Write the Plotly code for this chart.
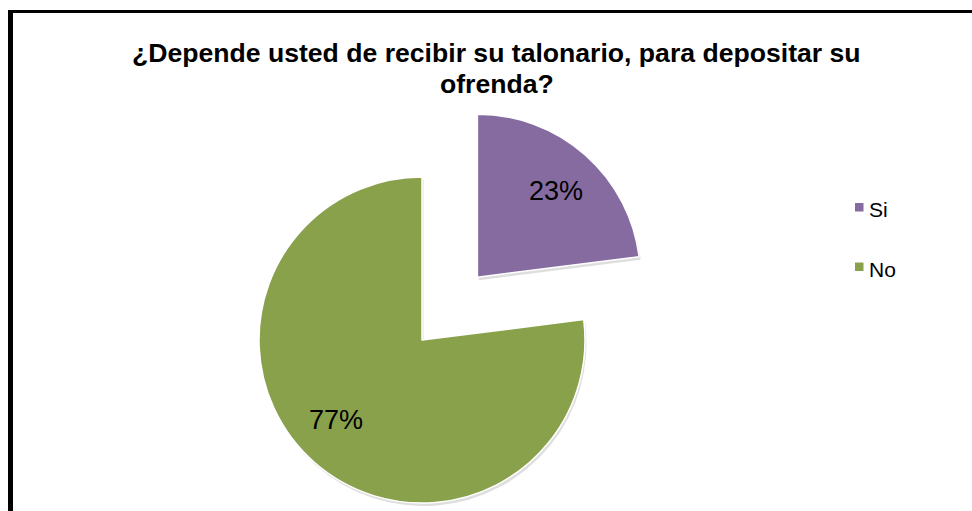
import math
import plotly.graph_objects as go

# --- data -------------------------------------------------------------
labels = ["Si", "No"]
values = [23, 77]
colors = ["#866BA1", "#8AA14C"]
title_lines = [
    "¿Depende usted de recibir su talonario, para depositar su",
    "ofrenda?",
]

# --- layout constants (pixels) ----------------------------------------
W, H = 972, 511
CX, CY, R = 422, 340, 163        # pie centre and radius
PULLS = [0.514, 0.0]             # exploded offset per slice, fraction of R
LABEL_R = 0.725                  # data label distance, fraction of R
LABEL_NUDGE = [(0, 2), (-8, -9)]  # small per-label offsets
FONT = "Liberation Sans, Arial, sans-serif"


def px(x):
    return x / W


def py(y):
    return 1 - y / H


total = sum(values)
fracs = [v / total for v in values]
starts, acc = [], 0.0
for f in fracs:
    starts.append(acc)
    acc += f * 360
mids = [math.radians(s + f * 180) for s, f in zip(starts, fracs)]

fig = go.Figure()
annotations = []
shapes = []


def pie_for(i, cx, cy, fill, line_w):
    """One pie trace in which only slice i is visible."""
    return go.Pie(
        labels=labels,
        values=values,
        sort=False,
        direction="clockwise",
        rotation=0,
        marker=dict(
            colors=[fill if j == i else "rgba(0,0,0,0)" for j in range(len(values))],
            line=dict(
                color=["white" if j == i else "rgba(0,0,0,0)" for j in range(len(values))],
                width=[line_w if j == i else 0 for j in range(len(values))],
            ),
        ),
        textinfo="none",
        hoverinfo="skip",
        showlegend=False,
        domain=dict(x=[px(cx - R), px(cx + R)], y=[py(cy + R), py(cy - R)]),
    )


centres = []
for i, m in enumerate(mids):
    d = PULLS[i] * R
    centres.append((CX + d * math.sin(m), CY - d * math.cos(m)))

# soft drop shadow under each slice
for i, (cx, cy) in enumerate(centres):
    fig.add_trace(pie_for(i, cx + 1.5, cy + 3, "rgba(0,0,0,0.13)", 0))
for i, (cx, cy) in enumerate(centres):
    fig.add_trace(pie_for(i, cx, cy, colors[i], 1.5))

# percentage labels placed along each slice's mid-angle
for i, (cx, cy) in enumerate(centres):
    lx = cx + LABEL_R * R * math.sin(mids[i]) + LABEL_NUDGE[i][0]
    ly = cy - LABEL_R * R * math.cos(mids[i]) + LABEL_NUDGE[i][1]
    annotations.append(dict(
        x=px(lx), y=py(ly), xref="paper", yref="paper",
        text=f"{round(fracs[i] * 100)}%", showarrow=False,
        xanchor="center", yanchor="middle",
        font=dict(family=FONT, size=27, color="#000000"),
    ))

# legend
for i, lab in enumerate(labels):
    ty = 209.5 + 59.5 * i
    shapes.append(dict(
        type="rect", xref="paper", yref="paper",
        x0=px(855), x1=px(863.5), y0=py(ty - 6.5), y1=py(ty + 2),
        fillcolor=colors[i], line=dict(width=0),
    ))
    annotations.append(dict(
        x=px(867), y=py(ty), xref="paper", yref="paper",
        text=lab, showarrow=False, xanchor="left", yanchor="middle",
        font=dict(family=FONT, size=21, color="#000000"),
    ))

# title, two centred lines
for k, line in enumerate(title_lines):
    annotations.append(dict(
        x=px(496.5), y=py(53 + 31 * k), xref="paper", yref="paper",
        text=f"<b>{line}</b>", showarrow=False,
        xanchor="center", yanchor="middle",
        font=dict(family=FONT, size=26.6, color="#000000"),
    ))

# black frame along the left and top edges
shapes.append(dict(type="rect", xref="paper", yref="paper",
                   x0=px(8), x1=px(13), y0=py(H), y1=py(10),
                   fillcolor="#000000", line=dict(width=0)))
shapes.append(dict(type="rect", xref="paper", yref="paper",
                   x0=px(8), x1=px(W), y0=py(13), y1=py(10),
                   fillcolor="#000000", line=dict(width=0)))

fig.update_layout(
    width=W, height=H,
    margin=dict(l=0, r=0, t=0, b=0),
    paper_bgcolor="white",
    plot_bgcolor="white",
    showlegend=False,
    annotations=annotations,
    shapes=shapes,
)

fig.write_html("out.html")
